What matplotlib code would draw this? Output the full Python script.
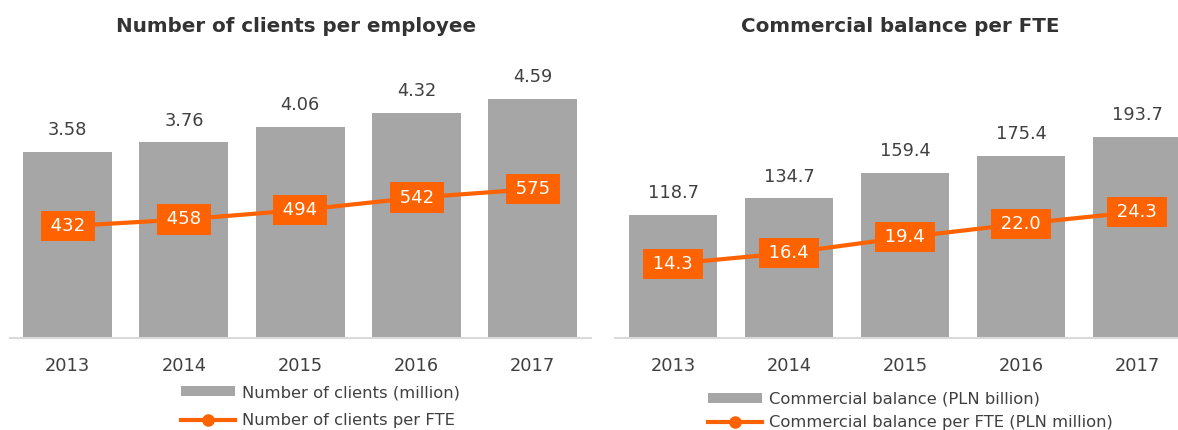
import matplotlib.pyplot as plt
from matplotlib.patches import Patch
from matplotlib.lines import Line2D

plt.rcParams['font.family'] = ['DejaVu Sans Condensed', 'DejaVu Sans']

years = ['2013', '2014', '2015', '2016', '2017']
clients_mln = [3.58, 3.76, 4.06, 4.32, 4.59]
clients_per_fte = [432, 458, 494, 542, 575]
balance_bln = [118.7, 134.7, 159.4, 175.4, 193.7]
balance_per_fte = [14.3, 16.4, 19.4, 22.0, 24.3]

GRAY = '#A6A6A6'
ORANGE = '#FF6200'
TXT = '#404040'

W, H = 1178, 430
fig = plt.figure(figsize=(W / 100, H / 100), dpi=100)


def panel(left_px, width_px, bars, line, bar_max, line_max, bar_fmt, line_fmt):
    # axes placed in pixel terms, baseline at y=338
    ax = fig.add_axes([left_px / W, (H - 338) / H, width_px / W, 278 / H])
    x = list(range(len(years)))
    ax.bar(x, bars, width=0.765, color=GRAY, linewidth=0)
    ax.set_xlim(-0.5, len(years) - 0.5)
    ax.set_ylim(0, bar_max)
    for xi, v in zip(x, bars):
        ax.annotate(bar_fmt.format(v), (xi, v), xytext=(0, 12), textcoords='offset points',
                    ha='center', va='baseline', fontsize=12.8, color=TXT)
    for s in ['top', 'left', 'right']:
        ax.spines[s].set_visible(False)
    ax.spines['bottom'].set_color('#D9D9D9')
    ax.spines['bottom'].set_linewidth(1.5)
    ax.set_yticks([])
    ax.set_xticks(x)
    ax.set_xticklabels(years, fontsize=12.8, color=TXT)
    ax.tick_params(axis='x', length=0, pad=14)

    ax2 = ax.twinx()
    ax2.plot(x, line, color=ORANGE, lw=3, solid_capstyle='butt')
    ax2.set_ylim(0, line_max)
    ax2.axis('off')
    for xi, v in zip(x, line):
        ax2.text(xi, v, '\u2009' + line_fmt.format(v) + '\u2009', ha='center', va='center',
                 fontsize=13, color='white',
                 bbox=dict(boxstyle='square,pad=0.34', fc=ORANGE, ec='none'))
    return ax


panel(9.5, 581.5, clients_mln, clients_per_fte, 278 / 52.07, 278 / 0.259,
      '{:.2f}', '{:.0f}')
panel(615, 580, balance_bln, balance_per_fte, 278 / 1.038, 278 / 5.19,
      '{:.1f}', '{:.1f}')

fig.text(296 / W, 1 - 27 / H, 'Number of clients per employee', ha='center', va='center',
         fontsize=14.3, fontweight='bold', color='#333333')
fig.text(900 / W, 1 - 27 / H, 'Commercial balance per FTE', ha='center', va='center',
         fontsize=14.3, fontweight='bold', color='#333333')


def legend(x_px, y_px, labels, spacing):
    handles = [Patch(facecolor=GRAY, linewidth=0),
               Line2D([], [], color=ORANGE, lw=3, marker='o', ms=8)]
    fig.legend(handles, labels, loc='upper left', bbox_to_anchor=(x_px / W, 1 - y_px / H),
               frameon=False, fontsize=11.8, labelcolor=TXT, borderpad=0, borderaxespad=0,
               handlelength=3.3, handleheight=0.6, handletextpad=0.4, labelspacing=spacing)


legend(181, 385, ['Number of clients (million)', 'Number of clients per FTE'], 0.8)
legend(708, 392, ['Commercial balance (PLN billion)', 'Commercial balance per FTE (PLN million)'],
       0.5)

fig.savefig('out.png', dpi=100)
